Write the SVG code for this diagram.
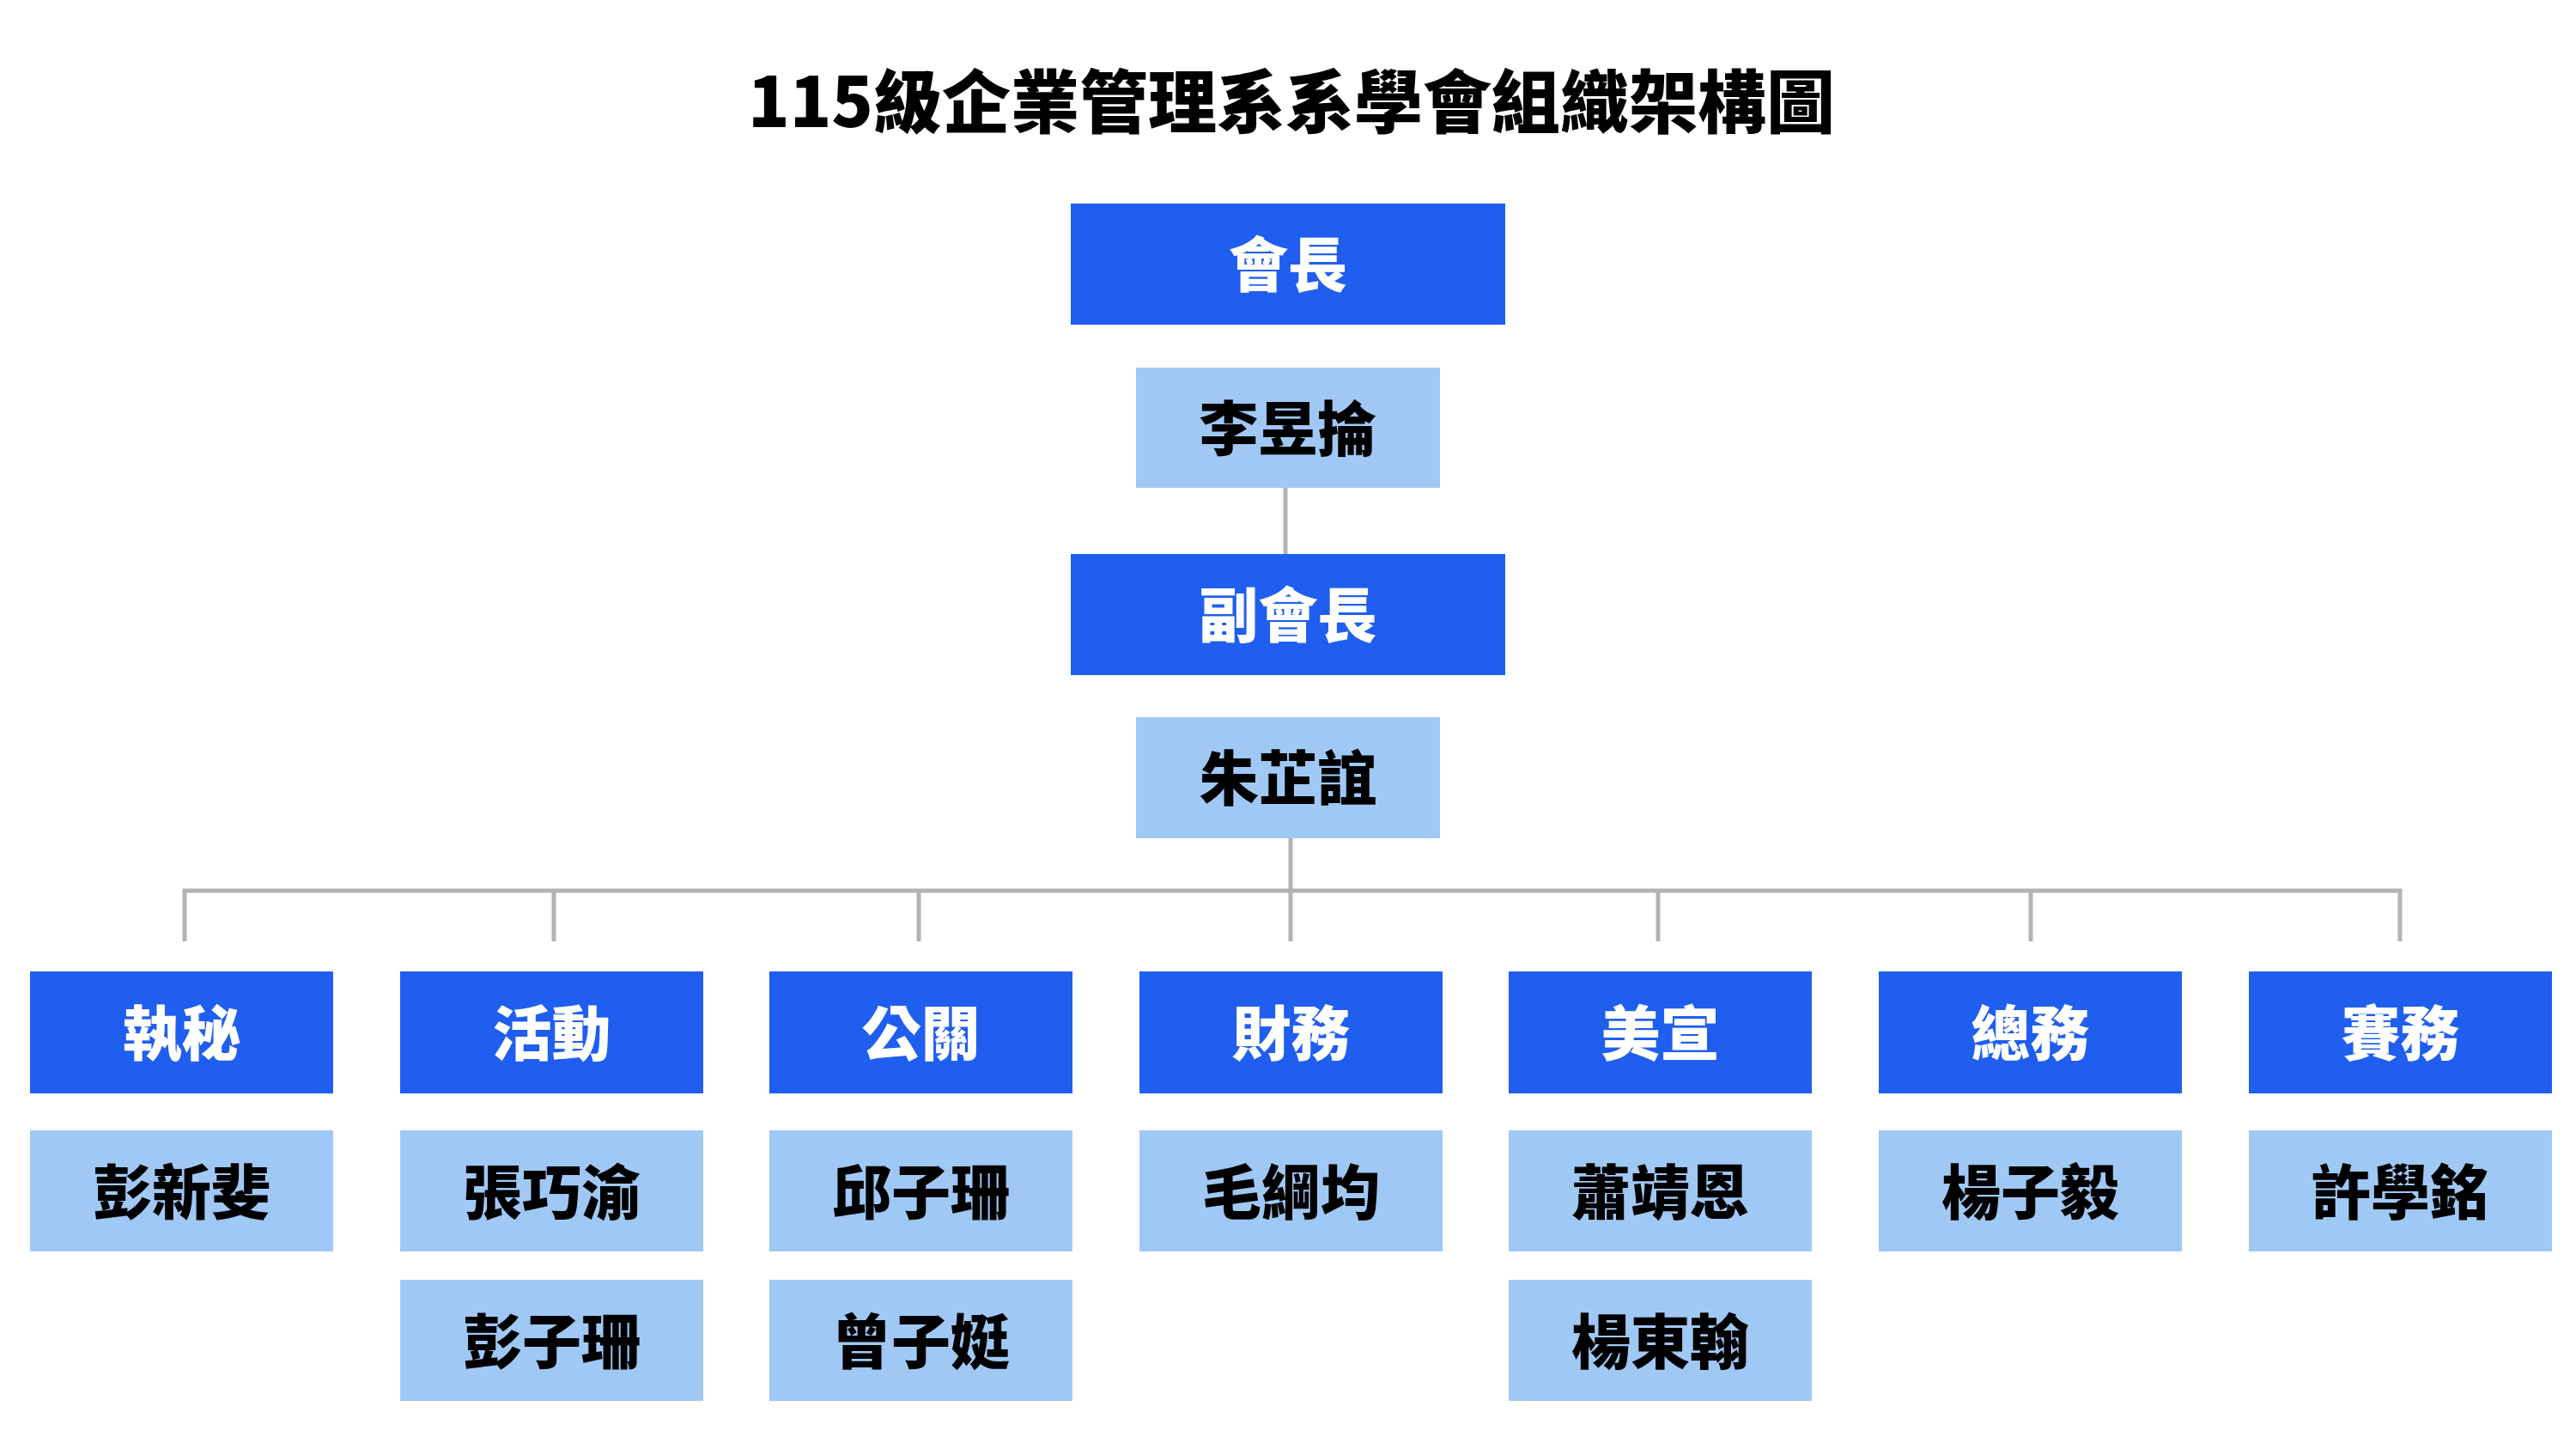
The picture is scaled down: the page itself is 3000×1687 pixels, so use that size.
<svg xmlns="http://www.w3.org/2000/svg" width="3000" height="1687" viewBox="0 0 3000 1687">
<style>
.t{font-family:"Noto Sans CJK TC","Noto Sans CJK SC",sans-serif;font-weight:900;text-anchor:middle}
.title{font-size:80px;fill:#000}
.role rect{fill:#1F5EEF}
.role text{font-size:69px;fill:#fff}
.name rect{fill:#A0C8F4}
.name text{font-size:69px;fill:#000}
.conn{stroke:#B3B3B3;stroke-width:5;fill:none}
</style>
<rect width="3000" height="1687" fill="#fff"/>
<text class="t title" x="1504" y="148">115級企業管理系系學會組織架構圖</text>
<g id="connectors">
<line class="conn" x1="1497" y1="567" x2="1497" y2="645"/>
<line class="conn" x1="1503" y1="976" x2="1503" y2="1096"/>
<polyline class="conn" points="215,1096 215,1037 2795,1037 2795,1096"/>
<line class="conn" x1="645" y1="1037" x2="645" y2="1096"/>
<line class="conn" x1="1070" y1="1037" x2="1070" y2="1096"/>
<line class="conn" x1="1931" y1="1037" x2="1931" y2="1096"/>
<line class="conn" x1="2365" y1="1037" x2="2365" y2="1096"/>
</g>
<g id="president" class="role"><rect x="1247" y="237" width="506" height="141"/><text class="t" x="1500" y="334">會長</text></g>
<g id="president-name" class="name"><rect x="1323" y="428" width="354" height="140"/><text class="t" x="1500" y="525">李昱掄</text></g>
<g id="vice-president" class="role"><rect x="1247" y="645" width="506" height="141"/><text class="t" x="1500" y="742">副會長</text></g>
<g id="vice-president-name" class="name"><rect x="1323" y="835" width="354" height="141"/><text class="t" x="1500" y="932">朱芷誼</text></g>

<g id="dept-secretary" class="role"><rect x="35" y="1131" width="353" height="142"/><text class="t" x="211.5" y="1229">執秘</text></g>
<g id="dept-activity" class="role"><rect x="466" y="1131" width="353" height="142"/><text class="t" x="642.5" y="1229">活動</text></g>
<g id="dept-pr" class="role"><rect x="896" y="1131" width="353" height="142"/><text class="t" x="1072.5" y="1229">公關</text></g>
<g id="dept-finance" class="role"><rect x="1327" y="1131" width="353" height="142"/><text class="t" x="1503.5" y="1229">財務</text></g>
<g id="dept-art" class="role"><rect x="1757" y="1131" width="353" height="142"/><text class="t" x="1933.5" y="1229">美宣</text></g>
<g id="dept-general" class="role"><rect x="2188" y="1131" width="353" height="142"/><text class="t" x="2364.5" y="1229">總務</text></g>
<g id="dept-competition" class="role"><rect x="2619" y="1131" width="353" height="142"/><text class="t" x="2795.5" y="1229">賽務</text></g>

<g id="name-peng-xinfei" class="name"><rect x="35" y="1316" width="353" height="141"/><text class="t" x="211.5" y="1414">彭新斐</text></g>
<g id="name-zhang-qiaoyu" class="name"><rect x="466" y="1316" width="353" height="141"/><text class="t" x="642.5" y="1414">張巧渝</text></g>
<g id="name-peng-zishan" class="name"><rect x="466" y="1490" width="353" height="141"/><text class="t" x="642.5" y="1588">彭子珊</text></g>
<g id="name-qiu-zishan" class="name"><rect x="896" y="1316" width="353" height="141"/><text class="t" x="1072.5" y="1414">邱子珊</text></g>
<g id="name-zeng-ziting" class="name"><rect x="896" y="1490" width="353" height="141"/><text class="t" x="1072.5" y="1588">曾子娗</text></g>
<g id="name-mao-gangjun" class="name"><rect x="1327" y="1316" width="353" height="141"/><text class="t" x="1503.5" y="1414">毛綱均</text></g>
<g id="name-xiao-jingen" class="name"><rect x="1757" y="1316" width="353" height="141"/><text class="t" x="1933.5" y="1414">蕭靖恩</text></g>
<g id="name-yang-donghan" class="name"><rect x="1757" y="1490" width="353" height="141"/><text class="t" x="1933.5" y="1588">楊東翰</text></g>
<g id="name-yang-ziyi" class="name"><rect x="2188" y="1316" width="353" height="141"/><text class="t" x="2364.5" y="1414">楊子毅</text></g>
<g id="name-xu-xueming" class="name"><rect x="2619" y="1316" width="353" height="141"/><text class="t" x="2795.5" y="1414">許學銘</text></g>
</svg>
